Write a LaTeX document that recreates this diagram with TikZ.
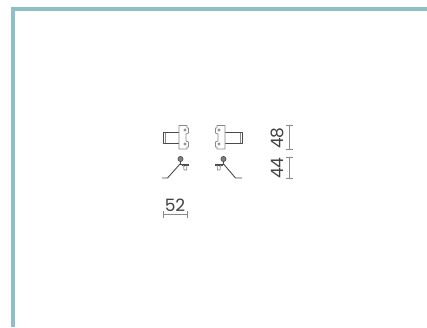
\documentclass[tikz,border=0pt]{standalone}
\usepackage{fontspec}
\setmainfont{Poppins}
\definecolor{barc}{HTML}{8FBFC6}
\definecolor{inkc}{HTML}{4A4A4A}
\definecolor{dimc}{HTML}{8A8A8A}
\tikzset{
  part/.style={draw=inkc,line width=0.9pt,line join=round},
  plate/.style={draw=inkc!65,line width=0.8pt,line join=round,fill=white},
  thin part/.style={draw=inkc!65,line width=0.7pt},
  dimline/.style={draw=dimc,line width=0.8pt},
  dimtext/.style={inner sep=0pt,text=black!75,font=\fontsize{17}{17}\selectfont},
  screw/.style={fill=inkc!70,draw=inkc,line width=0.6pt}
}
\begin{document}
\begin{tikzpicture}[x=1pt,y=-1pt]
\useasboundingbox (0,0) rectangle (427,327);
\fill[white] (0,0) rectangle (427,327);
\fill[barc] (11,7) rectangle (427,10.5);
\fill[barc] (11,7) rectangle (15,327);
% left hinge
\draw[part] (179,132.7) -- (163,132.7) -- (163,143) -- (179,143);
\draw[thin part] (165,132.7) -- (165,143);
\draw[plate] (179,125.5) -- (187,125.5) -- (187,128) -- (188.5,128) -- (188.5,133) -- (186,134) -- (186,141) -- (188.5,142) -- (188.5,147) -- (187,147) -- (187,149) -- (179,149) -- cycle;
\draw[thin part] (185,130) circle (1.1); \draw[thin part] (185,144) circle (1.1);
% right hinge
\draw[part] (225,132.7) -- (242,132.7) -- (242,143) -- (225,143);
\draw[thin part] (240,132.7) -- (240,143);
\draw[plate] (225,125.5) -- (217,125.5) -- (217,128) -- (215.5,128) -- (215.5,133) -- (218,134) -- (218,141) -- (215.5,142) -- (215.5,147) -- (217,147) -- (217,149) -- (225,149) -- cycle;
\draw[thin part] (219,130) circle (1.1); \draw[thin part] (219,144) circle (1.1);
% left profile
\draw[part] (162,178) -- (167.5,178) -- (180,164) -- (185,166);
\draw[screw] (180.5,159) circle (2.6);
\draw[part] (180.5,161) -- (180.5,165);
\draw[part,line width=1.4pt] (181.5,165) -- (189,165);
\draw[thin part] (183.5,165) -- (184,170) -- (186.5,170) -- (187,165);
% right profile
\draw[part] (242,178) -- (235.5,178) -- (223.5,164) -- (219,166);
\draw[screw] (223.5,159) circle (2.6);
\draw[part] (223.5,161) -- (223.5,165);
\draw[part,line width=1.4pt] (215,165) -- (222.5,165);
\draw[thin part] (217,165) -- (217.5,170) -- (220,170) -- (220.5,165);
% dimensions
\node[dimtext,rotate=90] (d48) at (277.5,138) {48};
\node[dimtext,rotate=90] (d44) at (277.5,168) {44};
\node[dimtext] (d52) at (175,205.5) {52};
\draw[dimline] (289.5,125.5) -- (289.5,149);
\draw[dimline] (286,125.5) -- (293,125.5);
\draw[dimline] (286,149) -- (293,149);
\draw[dimline] (289.5,157.5) -- (289.5,178);
\draw[dimline] (286,157.5) -- (293,157.5);
\draw[dimline] (286,178) -- (293,178);
\draw[dimline] (163,214.5) -- (187,214.5);
\draw[dimline] (163,211) -- (163,218);
\draw[dimline] (187,211) -- (187,218);
\end{tikzpicture}
\end{document}
